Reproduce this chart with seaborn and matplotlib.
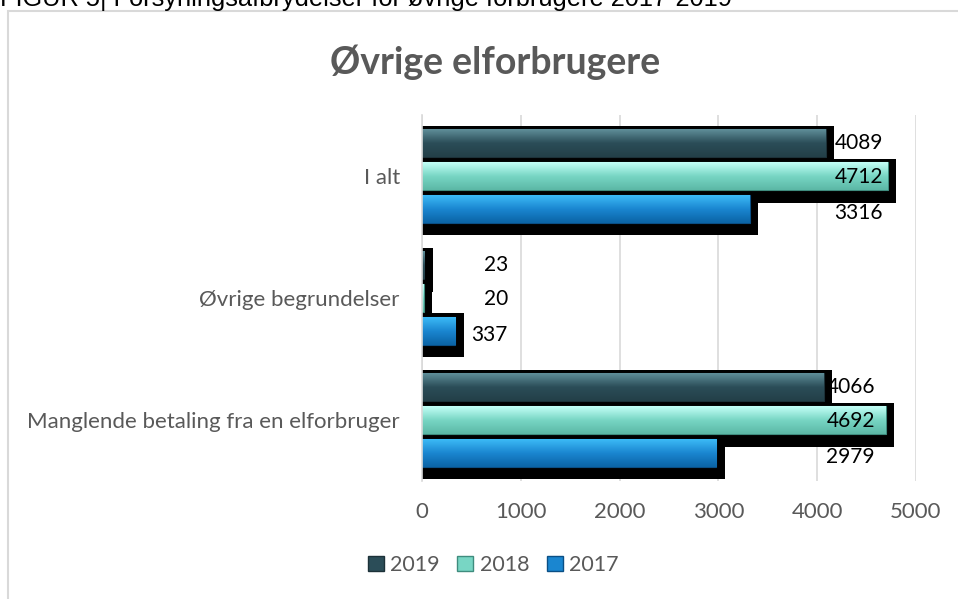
import numpy as np
import pandas as pd
import matplotlib
matplotlib.use("Agg")
import matplotlib.pyplot as plt
import seaborn as sns
from matplotlib.patches import Rectangle, Patch
from matplotlib.colors import LinearSegmentedColormap

# data
categories = ["I alt", "Øvrige begrundelser", "Manglende betaling fra en elforbruger"]
years = ["2019", "2018", "2017"]
v2019 = [4089, 23, 4066]
v2018 = [4712, 20, 4692]
v2017 = [3316, 337, 2979]

df = pd.DataFrame({
    "kategori": categories * 3,
    "aar": [y for y in years for _ in categories],
    "antal": v2019 + v2018 + v2017,
})

base = {"2019": "#2b4d58", "2018": "#78d6c4", "2017": "#1a86d0"}
light = {"2019": "#5f8e99", "2018": "#c4fff7", "2017": "#3cbaf6"}
dark = {"2019": "#233f48", "2018": "#5cb8a6", "2017": "#0b64a6"}
edge = {"2019": "#1c3138", "2018": "#3f8c7e", "2017": "#0a4f85"}

grey = "#595959"
sns.set_theme(style="white")
plt.rcParams["font.family"] = ["Lato", "DejaVu Sans"]

fig = plt.figure(figsize=(9.58, 5.99), dpi=100)
ax = fig.add_axes([422 / 958, 1 - 481 / 599, (916 - 422) / 958, (481 - 115) / 599])

sns.barplot(data=df, y="kategori", x="antal", hue="aar", hue_order=years,
            order=categories, palette=base, width=0.8, gap=0.14, orient="h",
            ax=ax, legend=False, zorder=3, saturation=1)

# black drop shadow behind every bar + vertical gradient on the bar
for cont, yr in zip(ax.containers, years):
    cmap = LinearSegmentedColormap.from_list(yr, [light[yr], base[yr], dark[yr]])
    for bar in cont:
        x0, y0 = bar.get_x(), bar.get_y()
        w, h = bar.get_width(), bar.get_height()
        ax.add_patch(Rectangle((x0, y0 - 0.025), w + 85, h + 0.13,
                               facecolor="black", edgecolor="none", zorder=2))
        bar.set_edgecolor(edge[yr])
        bar.set_linewidth(0.8)
        grad = np.linspace(0, 1, 64).reshape(-1, 1)
        im = ax.imshow(grad, extent=[x0, x0 + w, y0 + h, y0], cmap=cmap,
                       aspect="auto", zorder=3.5, interpolation="bicubic")
        im.set_clip_path(bar)

# value labels
label_right = [4666, 870, 4585]
label_dy = [-0.005, 0.01, 0.04]
for cont, yr, vals, dy in zip(ax.containers, years, [v2019, v2018, v2017], label_dy):
    for i, (bar, v) in enumerate(zip(cont, vals)):
        yc = bar.get_y() + bar.get_height() / 2 + dy
        ax.text(label_right[i], yc, str(v), ha="right", va="center",
                fontsize=15, color="black", zorder=6)

ax.set_xlim(0, 5000)
ax.set_ylim(2.5, -0.5)
ax.set_xticks([0, 1000, 2000, 3000, 4000, 5000])
ax.xaxis.grid(True, color="#d9d9d9", linewidth=1.2, zorder=0)
ax.set_axisbelow(True)
ax.set_xlabel("")
ax.set_ylabel("")
ax.tick_params(axis="x", length=0, pad=15, labelsize=16, labelcolor=grey)
ax.tick_params(axis="y", length=0, pad=16, labelsize=16, labelcolor=grey)
for s in ["top", "right", "bottom"]:
    ax.spines[s].set_visible(False)
ax.spines["left"].set_color("#d9d9d9")
ax.spines["left"].set_linewidth(1.2)
ax.spines["left"].set_zorder(4)

# chart frame and titles
fig.patches.append(Rectangle((8 / 958, -0.1), 1.2, 1 - 11 / 599 + 0.1,
                             transform=fig.transFigure, fill=False,
                             edgecolor="#d9d9d9", linewidth=1.5))
fig.text(0.517, 1 - 62 / 599, "Øvrige elforbrugere", ha="center", va="center",
         fontsize=27, fontweight="bold", color=grey)
fig.text(0.0, 1 - 6 / 599, "FIGUR 5| Forsyningsafbrydelser for øvrige forbrugere 2017-2019",
         ha="left", va="baseline", fontsize=18.3, color="black",
         family=["Liberation Sans", "DejaVu Sans"])

handles = [Patch(facecolor=base[y], edgecolor=edge[y], label=y) for y in years]
fig.legend(handles=handles, loc="center", bbox_to_anchor=(0.515, 1 - 565 / 599),
           ncol=3, frameon=False, fontsize=15.5, labelcolor=grey,
           handlelength=0.75, handleheight=0.75, handletextpad=0.3, columnspacing=0.8)

fig.savefig("out.png", dpi=100)
